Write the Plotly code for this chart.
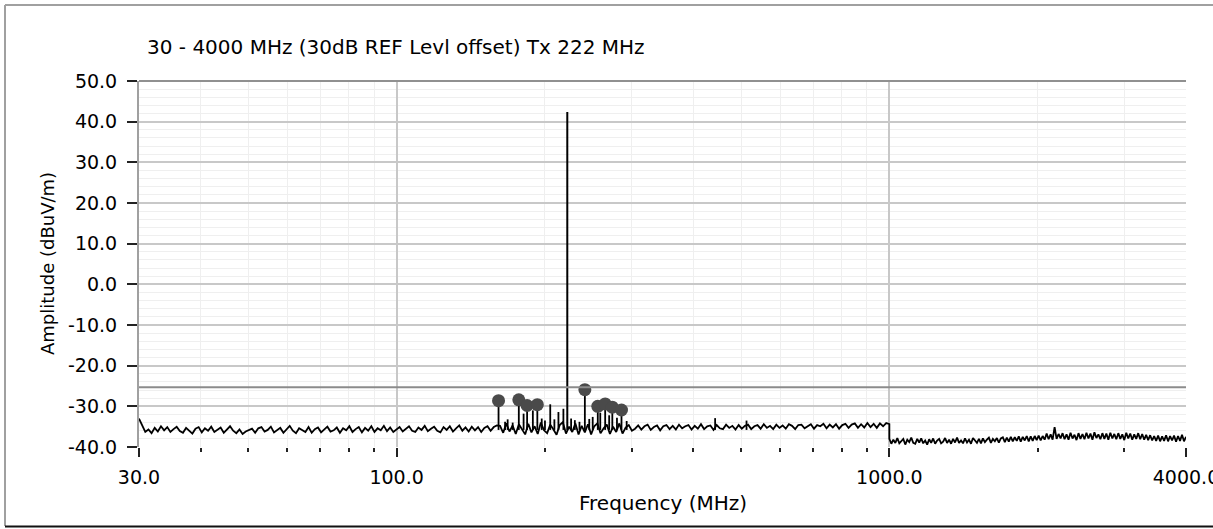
import numpy as np
import plotly.graph_objects as go

# ---------------- data ----------------
# Sweep 1: 30 - 1000 MHz, amplitude samples read at even steps along the log axis
sweep1_mhz = [30, 1000]
sweep1_dbuv = [
    -33.0, -34.6, -36.3, -35.7, -36.6, -35.3, -36.2, -34.9, -35.9, -35.1,
    -36.3, -35.6, -35.0, -36.1, -36.5, -35.3, -35.9, -36.7, -35.5, -35.1,
    -36.4, -35.4, -36.0, -35.0, -36.3, -35.8, -35.2, -36.5, -35.6, -34.9,
    -36.0, -36.6, -35.7, -36.8, -36.2, -35.9, -35.5, -36.5, -35.4, -35.1,
    -36.2, -35.8, -35.0, -36.4, -35.9, -35.3, -36.5, -35.6, -34.8, -36.0,
    -36.6, -35.4, -35.9, -36.3, -35.1, -36.5, -35.6, -35.2, -36.4, -35.8,
    -35.0, -36.2, -35.9, -35.2, -36.5, -35.4, -35.9, -34.9, -36.3, -35.6,
    -35.1, -36.4, -35.3, -36.0, -34.9, -36.3, -35.4, -35.9, -34.8, -36.1,
    -35.2, -36.3, -35.6,
    -35.1, -36.2, -35.5, -34.9, -36.0, -36.3, -35.2, -35.8, -34.8, -36.1,
    -35.5, -35.0, -36.0, -36.4, -35.1, -35.8, -34.9, -36.2, -35.4, -34.7,
    -36.0, -35.2, -36.2, -35.0, -35.9, -35.1, -36.3, -35.3, -34.9, -36.0,
    -35.1, -34.7,
    -34.8, -36.5, -34.2, -36.2, -34.7, -36.8, -34.4, -35.6, -36.9, -34.3,
    -36.4, -34.9, -36.8, -34.0, -35.9, -36.6, -34.5, -35.7, -37.0, -34.6,
    -33.9, -36.7, -35.0, -36.3, -34.2, -36.9, -34.8, -36.4, -34.4, -36.9,
    -34.9, -34.2, -36.6, -35.4, -34.5, -36.8, -35.0, -36.3, -34.2, -36.7,
    -35.2, -34.6, -36.0,
    -35.5, -34.7, -35.7, -34.9, -34.5, -35.8, -35.1, -34.7, -35.9, -34.9,
    -34.6, -35.6, -34.8, -35.7, -34.5, -35.4, -34.9, -34.6, -35.7, -34.8,
    -35.5, -34.4, -35.6, -34.9, -34.7, -35.8, -34.6, -35.4, -35.6, -34.5,
    -35.3, -34.8, -35.7, -34.6, -35.5, -34.8, -34.5, -35.6, -34.9, -34.6,
    -35.5, -34.4, -35.3, -34.8, -35.6, -34.5, -35.3, -34.7, -35.5, -34.4,
    -34.8, -35.6, -34.6, -34.5, -35.4, -34.8, -34.4, -35.5, -34.6, -34.9,
    -34.3, -35.4, -34.5, -35.2, -34.4, -35.5, -34.6, -34.3, -35.3, -34.5,
    -34.2, -35.3, -34.4, -35.2, -34.1, -35.1, -34.3, -35.3, -34.2, -34.9,
    -34.1, -34.4,
]

# Sweep 2: 1000 - 4000 MHz
sweep2_mhz = [1000, 4000]
sweep2_dbuv = [
    -38.0, -39.2, -38.2, -39.0, -37.8, -39.1, -38.4, -38.0, -39.4, -38.2,
    -38.8, -37.7, -39.0, -39.2, -38.0, -38.9, -37.9, -39.1, -38.4, -39.4,
    -38.1, -39.0, -37.9, -39.2, -38.4, -38.0, -39.1, -38.7, -37.8, -39.0,
    -38.2, -39.2, -38.0, -38.9, -37.7, -39.0, -38.4, -39.1, -37.9, -38.9,
    -38.2, -39.2, -37.8, -38.5, -39.0, -38.0, -39.1, -37.9, -38.8, -38.2,
    -37.7, -39.0, -38.0, -38.6, -37.8, -38.9, -37.9,
    -37.6, -38.8, -37.7, -38.7, -37.5, -38.6, -37.6, -38.5, -37.4, -38.7,
    -37.5, -38.4, -37.3, -38.6, -37.4, -38.5, -37.3, -38.3, -37.2, -38.4,
    -37.3, -38.2,
    -36.7, -38.1, -36.9, -38.2, -35.1, -38.0, -36.8, -37.9, -36.6, -38.1,
    -36.9, -38.2, -36.5, -37.9, -37.0, -38.3, -36.6, -38.0, -36.8, -38.1,
    -36.5, -37.9, -36.7, -38.2, -36.4, -37.8, -36.9, -38.1, -36.6, -38.0,
    -36.7, -38.2, -36.5, -37.9, -36.8, -38.1, -36.6, -38.0, -36.9, -38.3,
    -36.5, -37.9, -36.7, -38.2, -36.9, -38.0, -36.6, -38.1, -36.8, -38.2,
    -37.0, -38.3,
    -37.1, -38.4, -37.3, -38.5, -37.2, -38.6, -37.4, -38.5, -37.1, -38.6,
    -37.3, -38.4, -37.2, -38.7, -37.3, -38.5, -37.0, -38.6, -37.5,
]

# narrow spurious emissions (no marker)
spur_mhz = [166, 168, 172, 181, 189, 197, 200, 205, 209, 213, 218, 226, 230, 235,
            246, 250, 259, 270, 280, 293, 443, 513]
spur_dbuv = [-33.8, -33.2, -34.0, -31.8, -31.0, -33.0, -33.5, -29.5, -33.2, -31.4,
             -30.6, -33.0, -33.4, -33.8, -33.1, -32.6, -31.6, -32.2, -32.8, -33.6,
             -32.9, -33.5]

# carrier
carrier_mhz = [222]
carrier_dbuv = [42.4]

# marked peaks
peak_mhz = [161, 177, 184, 193, 241, 256, 265, 274, 286]
peak_dbuv = [-28.6, -28.4, -29.8, -29.6, -25.9, -30.0, -29.4, -30.2, -30.9]

floor_dbuv = -35.8
limit_dbuv = -25.3

x_major = [30, 100, 1000, 4000]
x_major_text = ["30.0", "100.0", "1000.0", "4000.0"]
x_minor = [40, 50, 60, 70, 80, 90, 200, 300, 400, 500, 600, 700, 800, 900, 2000, 3000]
y_ticks = [-40, -30, -20, -10, 0, 10, 20, 30, 40, 50]
y_ticktext = ["-40.0", "-30.0", "-20.0", "-10.0", "0.0", "10.0", "20.0", "30.0", "40.0", "50.0"]

# ---------------- build traces ----------------
f1 = np.geomspace(sweep1_mhz[0], sweep1_mhz[1], len(sweep1_dbuv))
f2 = np.geomspace(sweep2_mhz[0], sweep2_mhz[1], len(sweep2_dbuv))
freq = np.concatenate([f1, f2])
amp = np.array(sweep1_dbuv + sweep2_dbuv)

stem_x, stem_y = [], []
for f, a in zip(spur_mhz + peak_mhz, spur_dbuv + peak_dbuv):
    stem_x += [f, f, None]
    stem_y += [floor_dbuv, a, None]

carrier_x, carrier_y = [], []
for f, a in zip(carrier_mhz, carrier_dbuv):
    carrier_x += [f, f, None]
    carrier_y += [floor_dbuv, a, None]

FONT = "DejaVu Sans"
fig = go.Figure()

fig.add_trace(go.Scatter(x=[x_major[0], x_major[-1]], y=[limit_dbuv, limit_dbuv],
                         mode="lines", line=dict(color="#8c8c8c", width=2),
                         xaxis="x2", yaxis="y", hoverinfo="skip", showlegend=False))
fig.add_trace(go.Scatter(x=freq, y=amp, mode="lines",
                         line=dict(color="#000000", width=1.8), showlegend=False))
fig.add_trace(go.Scatter(x=stem_x, y=stem_y, mode="lines",
                         line=dict(color="#000000", width=1.8), showlegend=False))
fig.add_trace(go.Scatter(x=carrier_x, y=carrier_y, mode="lines",
                         line=dict(color="#000000", width=2), showlegend=False))
fig.add_trace(go.Scatter(x=peak_mhz, y=peak_dbuv, mode="markers",
                         marker=dict(color="#4a4a4a", size=13, line=dict(width=0)),
                         showlegend=False))

xrange_log = [np.log10(x_major[0]) - 1e-7, np.log10(x_major[-1]) + 1e-7]

fig.update_layout(
    width=1213, height=529,
    margin=dict(l=139, r=27, t=81, b=82, autoexpand=False),
    paper_bgcolor="white", plot_bgcolor="white",
    font=dict(family=FONT, size=19, color="#000000"),
    title=dict(text="30 - 4000 MHz (30dB REF Levl offset) Tx 222 MHz",
               xref="container", yref="container", x=147 / 1213, xanchor="left",
               y=1 - 47 / 529, yanchor="middle",
               font=dict(family=FONT, size=20, color="#000000")),
    xaxis=dict(type="log", range=xrange_log, tickmode="array", tickvals=x_major[1:3],
               showticklabels=False, ticks="", showgrid=True, gridcolor="#c8c8c8", gridwidth=1.5,
               zeroline=False, showline=False, automargin=False,
               minor=dict(tickmode="array", tickvals=x_minor, ticks="", showgrid=True,
                          gridcolor="#efefef", gridwidth=1)),
    xaxis2=dict(type="log", range=xrange_log, overlaying="x", anchor="y", side="bottom",
                tickmode="array", tickvals=x_major, ticktext=x_major_text,
                ticks="outside", ticklen=9, tickwidth=2, tickcolor="#222222",
                ticklabelstandoff=4, ticklabeloverflow="allow", automargin=False,
                showgrid=False, zeroline=False, showline=False,
                tickfont=dict(family=FONT, size=19, color="#000000"),
                minor=dict(tickmode="array", tickvals=x_minor, ticks="outside", ticklen=4,
                           tickwidth=2, tickcolor="#222222", showgrid=False)),
    yaxis=dict(range=[-40, 50], tickmode="array", tickvals=y_ticks, ticktext=y_ticktext,
               ticks="outside", ticklen=10, tickwidth=1.5, tickcolor="#222222",
               ticklabelstandoff=6, automargin=False,
               showgrid=True, gridcolor="#c8c8c8", gridwidth=1.5, zeroline=False,
               showline=True, linecolor="#a0a0a0", linewidth=2,
               tickfont=dict(family=FONT, size=19, color="#000000"),
               minor=dict(dtick=2, ticks="", showgrid=True, gridcolor="#efefef", gridwidth=1)),
    annotations=[
        dict(text="Amplitude (dBuV/m)", xref="paper", yref="paper",
             x=(47 - 139) / 1047, y=0.5, textangle=-90, showarrow=False,
             xanchor="center", yanchor="middle",
             font=dict(family=FONT, size=18, color="#000000")),
        dict(text="Frequency (MHz)", xref="paper", yref="paper",
             x=0.5, y=(447 - 503) / 366, showarrow=False,
             xanchor="center", yanchor="middle",
             font=dict(family=FONT, size=20, color="#000000")),
    ],
    shapes=[
        # plot top edge
        dict(type="line", xref="paper", yref="paper", x0=0, x1=1, y0=1, y1=1,
             line=dict(color="#909090", width=2)),
        # outer frame
        dict(type="line", xref="paper", yref="paper", x0=(5 - 139) / 1047, x1=1.05,
             y0=(447 - 5) / 366, y1=(447 - 5) / 366, line=dict(color="#a0a0a0", width=2)),
        dict(type="line", xref="paper", yref="paper", x0=(5 - 139) / 1047, x1=(5 - 139) / 1047,
             y0=(447 - 5) / 366, y1=(447 - 526) / 366, line=dict(color="#a0a0a0", width=2)),
        dict(type="line", xref="paper", yref="paper", x0=(5 - 139) / 1047, x1=1.05,
             y0=(447 - 526.5) / 366, y1=(447 - 526.5) / 366, line=dict(color="#111111", width=2)),
    ],
)

fig.write_html("out.html", config={"displayModeBar": False})
